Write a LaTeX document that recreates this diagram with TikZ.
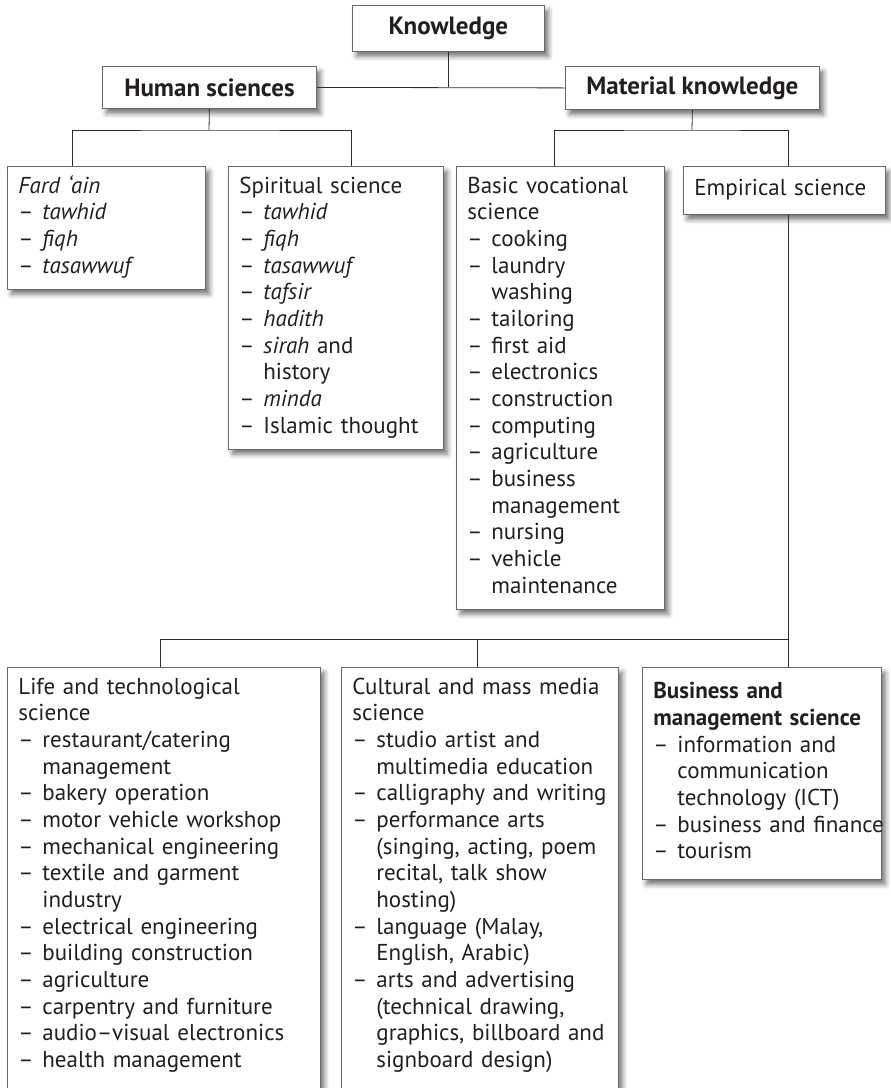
\documentclass[tikz,border=0pt]{standalone}
\usepackage{fontspec}
\setmainfont{PT Sans}
\usetikzlibrary{positioning, calc, shadows.blur}

\definecolor{boxline}{RGB}{105,105,105}
\definecolor{linkline}{RGB}{45,45,45}
\definecolor{ink}{RGB}{35,31,32}

\hyphenpenalty=10000
\exhyphenpenalty=10000
\newcommand{\litem}[1]{\par{\hangindent=24pt\hangafter=1\noindent\hbox to 24pt{–\hfil}#1\strut\par}}

\tikzset{
  shade/.style={blur shadow={shadow xshift=4pt, shadow yshift=-5pt,
    shadow blur radius=5pt, shadow opacity=55}},
  headbox/.style={draw=boxline, fill=white, line width=0.8pt, shade,
    anchor=north west, inner sep=0pt, text=ink,
    font=\fontsize{25}{30}\selectfont\bfseries},
  listbox/.style={draw=boxline, fill=white, line width=0.8pt, shade,
    anchor=north west, inner xsep=11pt, inner ysep=8pt, align=left, text=ink,
    font=\fontsize{23}{26.67}\selectfont, execute at begin node=\strut},
  link/.style={draw=linkline, line width=0.8pt}
}

\begin{document}
\begin{tikzpicture}[x=1pt, y=-1pt]
\useasboundingbox (0,0) rectangle (891,1088);

% top level
\node[headbox, minimum width=192pt, minimum height=46pt] (know) at (352,5) {Knowledge};
\node[headbox, minimum width=214pt, minimum height=42pt] (human) at (102,66) {Human sciences};
\node[headbox, minimum width=254pt, minimum height=43pt] (material) at (565,66) {Material knowledge};

% human sciences
\node[listbox, text width=176pt] (fardain) at (7,166)
  {\textit{Fard ‘ain}
   \litem{\textit{tawhid}}
   \litem{\textit{fiqh}}
   \litem{\textit{tasawwuf}}};
\node[listbox, text width=193pt] (spiritual) at (228,166)
  {Spiritual science
   \litem{\textit{tawhid}}
   \litem{\textit{fiqh}}
   \litem{\textit{tasawwuf}}
   \litem{\textit{tafsir}}
   \litem{\textit{hadith}}
   \litem{\textit{sirah} and\newline history}
   \litem{\textit{minda}}
   \litem{Islamic~thought}};

% material knowledge
\node[listbox, text width=186pt] (basic) at (456,166)
  {Basic vocational\newline science
   \litem{cooking}
   \litem{laundry\newline washing}
   \litem{tailoring}
   \litem{first aid}
   \litem{electronics}
   \litem{construction}
   \litem{computing}
   \litem{agriculture}
   \litem{business\newline management}
   \litem{nursing}
   \litem{vehicle\newline maintenance}};
\node[listbox, text width=180pt, minimum height=48pt] (empirical) at (683,166)
  {Empirical~science};

% empirical science
\node[listbox, text width=291pt] (life) at (7,667)
  {Life and technological\newline science
   \litem{restaurant/catering\newline management}
   \litem{bakery operation}
   \litem{motor~vehicle~workshop}
   \litem{mechanical~engineering}
   \litem{textile and garment\newline industry}
   \litem{electrical engineering}
   \litem{building construction}
   \litem{agriculture}
   \litem{carpentry~and~furniture}
   \litem{audio–visual~electronics}
   \litem{health management\newline}};
\node[listbox, text width=255pt] (cultural) at (341,667)
  {Cultural~and~mass~media\newline science
   \litem{studio artist and\newline multimedia~education}
   \litem{calligraphy~and~writing}
   \litem{performance arts\newline (singing,~acting,~poem\newline recital, talk show\newline hosting)}
   \litem{language (Malay,\newline English, Arabic)}
   \litem{arts~and~advertising\newline (technical drawing,\newline graphics,~billboard~and\newline signboard design)\newline}};
\node[listbox, text width=217pt, minimum height=212pt] (business) at (642,667)
  {\textbf{Business and\newline management~science}
   \litem{information and\newline communication\newline technology (ICT)}
   \litem{business~and~finance}
   \litem{tourism}};

\coordinate (hbus) at (209,130);
\coordinate (mbus) at (692,130);
\coordinate (ebus) at (788,639);

\draw[link] (know) -- (know |- human.east);
\draw[link] (human.east) -- (material.west);
\draw[link] (human.south) -- (hbus);
\draw[link] ([xshift=65pt]fardain.north west) |- (hbus) -| ([xshift=123pt]spiritual.north west);
\draw[link] (material.south) -- (mbus);
\draw[link] ([xshift=98pt]basic.north west) |- (mbus) -| ([xshift=105pt]empirical.north west);
\draw[link] ([xshift=105pt]empirical.south west) -- ([xshift=146pt]business.north west);
\draw[link] ([xshift=153pt]life.north west) |- (ebus);
\draw[link] ([xshift=136pt]cultural.north west) -- ([xshift=136pt]cultural.north west |- ebus);
\end{tikzpicture}
\end{document}
